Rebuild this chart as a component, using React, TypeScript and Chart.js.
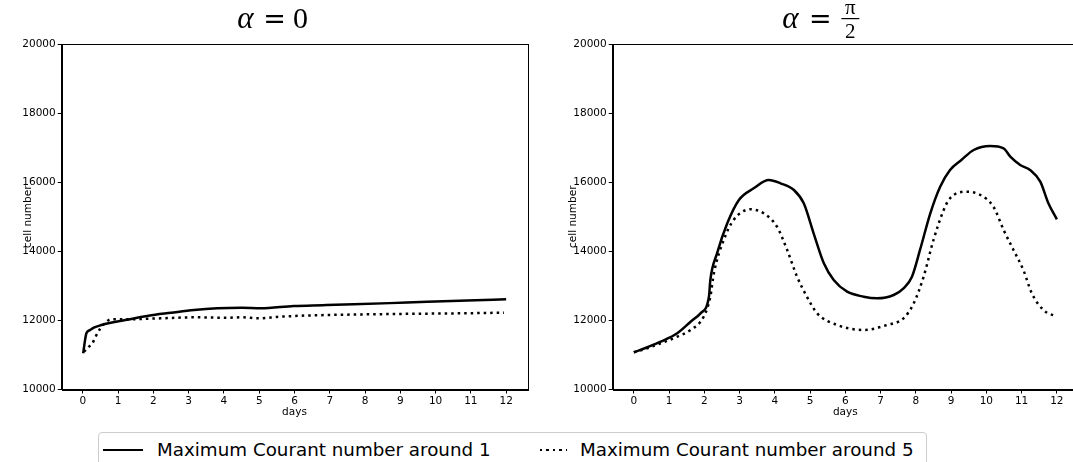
import React, { useEffect, useRef } from "react";
import { Chart, registerables } from "chart.js";

Chart.register(...registerables);

const xTicks = [0, 1, 2, 3, 4, 5, 6, 7, 8, 9, 10, 11, 12];
const yTicks = [10000, 12000, 14000, 16000, 18000, 20000];

const seriesLabels = ["Maximum Courant number around 1", "Maximum Courant number around 5"];

// alpha = 0
const leftDaysC1 = [0.01, 0.05, 0.1, 0.2, 0.31, 0.5, 0.79, 1.2, 1.86, 2.5, 3.15, 3.81, 4.5, 5.04, 5.98, 6.8, 7.68, 8.7, 9.76, 10.9, 12];
const leftCellsC1 = [11048, 11350, 11627, 11720, 11789, 11860, 11934, 12010, 12136, 12220, 12301, 12350, 12365, 12350, 12417, 12440, 12466, 12500, 12541, 12575, 12610];
const leftDaysC5 = [0.03, 0.17, 0.27, 0.36, 0.48, 0.64, 0.79, 1.26, 2.2, 3.15, 4.09, 4.5, 5.0, 5.5, 5.98, 6.93, 8.82, 10.71, 11.94];
const leftCellsC5 = [11094, 11239, 11337, 11528, 11742, 11934, 12032, 12032, 12060, 12089, 12078, 12090, 12060, 12100, 12127, 12156, 12185, 12205, 12223];

// alpha = pi/2
const rightDaysC1 = [0, 0.4, 0.76, 1.23, 1.61, 1.89, 2.13, 2.17, 2.36, 2.65, 2.98, 3.4, 3.83, 4.16, 4.54, 4.82, 5.1, 5.39, 5.67, 6.05, 6.52, 6.9, 7.37, 7.65, 7.89, 8.12, 8.41, 8.69, 8.97, 9.3, 9.64, 10.11, 10.49, 10.68, 10.96, 11.24, 11.53, 11.76, 12];
const rightCellsC1 = [11077, 11230, 11383, 11627, 11962, 12205, 12686, 13169, 13942, 14810, 15485, 15823, 16064, 15968, 15774, 15389, 14521, 13653, 13169, 12831, 12686, 12640, 12735, 12929, 13265, 14046, 15100, 15870, 16353, 16650, 16932, 17048, 16981, 16738, 16498, 16353, 16015, 15389, 14926];
const rightDaysC5 = [0, 0.4, 0.76, 1.23, 1.61, 1.98, 2.17, 2.27, 2.55, 2.83, 3.31, 3.68, 4.06, 4.35, 4.63, 4.91, 5.2, 5.77, 6.52, 7.18, 7.65, 7.94, 8.22, 8.5, 8.79, 8.97, 9.45, 9.83, 10.2, 10.49, 10.77, 11.05, 11.29, 11.62, 12];
const rightCellsC5 = [11077, 11200, 11337, 11528, 11722, 12107, 12686, 13363, 14327, 14906, 15215, 15100, 14712, 14038, 13265, 12686, 12205, 11867, 11722, 11867, 12060, 12495, 13265, 14327, 15195, 15534, 15725, 15630, 15291, 14617, 14038, 13459, 12784, 12301, 12107];

const SANS = "'DejaVu Sans', sans-serif";
const SERIF = "'Liberation Serif', 'DejaVu Serif', serif";
const SERIF_EQ = "'DejaVu Serif', serif";

const toPts = (xs: number[], ys: number[]) => xs.map((x, i) => ({ x, y: ys[i] }));

const framePlugin = {
  id: "frame",
  afterDraw(chart: any) {
    const { ctx, chartArea } = chart;
    ctx.save();
    ctx.strokeStyle = "#000";
    ctx.lineWidth = 1;
    ctx.strokeRect(Math.round(chartArea.left) + 0.5, Math.round(chartArea.top) + 0.5, Math.round(chartArea.right - chartArea.left), Math.round(chartArea.bottom - chartArea.top));
    ctx.restore();
  },
};

const mathTitlePlugin = {
  id: "mathTitle",
  afterDraw(chart: any, _args: any, opts: any) {
    const { ctx, chartArea } = chart;
    const cx = (chartArea.left + chartArea.right) / 2;
    ctx.save();
    ctx.fillStyle = "#000";
    ctx.textBaseline = "alphabetic";
    ctx.textAlign = "center";
    const base = 28;
    if (opts.kind === "zero") {
      ctx.font = `italic 31px ${SERIF}`;
      ctx.fillText("α", cx - 49, base);
      ctx.font = `27px ${SERIF_EQ}`;
      ctx.fillText("=", cx - 20, base);
      ctx.font = `30px ${SERIF}`;
      ctx.fillText("0", cx + 6, base);
    } else {
      ctx.font = `italic 31px ${SERIF}`;
      ctx.fillText("α", cx - 55, base);
      ctx.font = `27px ${SERIF_EQ}`;
      ctx.fillText("=", cx - 25, base);
      ctx.font = `21px ${SERIF}`;
      ctx.fillText("π", cx + 5, 14);
      ctx.fillText("2", cx + 5, 38);
      ctx.fillRect(cx - 4, 18, 18, 1.2);
    }
    ctx.restore();
  },
};

function makeOptions(yAxisWidth: number, padRight: number, kind: string) {
  return {
    responsive: false,
    maintainAspectRatio: false,
    animation: false,
    devicePixelRatio: 1,
    layout: { padding: { left: 0, right: padRight, top: 44, bottom: 0 } },
    plugins: {
      legend: { display: false },
      tooltip: { enabled: false },
      mathTitle: { kind },
    },
    elements: { point: { radius: 0 } },
    scales: {
      x: {
        type: "linear",
        min: -0.6,
        max: 12.6,
        afterBuildTicks: (s: any) => {
          s.ticks = xTicks.map((v) => ({ value: v }));
        },
        afterFit: (s: any) => {
          s.height = 35.5;
        },
        grid: { drawOnChartArea: false, color: "#000", tickLength: 4 },
        border: { color: "#000", width: 1 },
        ticks: { color: "#000", font: { family: SANS, size: 10.5 }, padding: 1, maxRotation: 0, autoSkip: false },
        title: { display: true, text: "days", color: "#000", font: { family: SANS, size: 10.5 }, padding: { top: 0, bottom: 6 } },
      },
      y: {
        type: "linear",
        min: 10000,
        max: 20000,
        afterBuildTicks: (s: any) => {
          s.ticks = yTicks.map((v) => ({ value: v }));
        },
        afterFit: (s: any) => {
          s.width = yAxisWidth;
        },
        grid: { drawOnChartArea: false, color: "#000", tickLength: 4 },
        border: { color: "#000", width: 1 },
        ticks: { color: "#000", font: { family: SANS, size: 10.5 }, padding: 2, callback: (v: any) => String(v) },
        title: { display: true, text: "cell number", color: "#000", font: { family: SANS, size: 10.5 }, padding: { top: 22, bottom: 0 } },
      },
    },
  };
}

function makeData(d1: number[], c1: number[], d5: number[], c5: number[]) {
  return {
    datasets: [
      {
        label: seriesLabels[0],
        data: toPts(d1, c1),
        borderColor: "#000",
        borderWidth: 2.5,
        cubicInterpolationMode: "monotone",
        fill: false,
      },
      {
        label: seriesLabels[1],
        data: toPts(d5, c5),
        borderColor: "#000",
        borderWidth: 2.5,
        borderDash: [2.5, 4],
        borderCapStyle: "butt",
        cubicInterpolationMode: "monotone",
        fill: false,
      },
    ],
  };
}

function ChartCanvas(props: { left: number; width: number; height: number; cfg: any }) {
  const ref = useRef<HTMLCanvasElement | null>(null);
  useEffect(() => {
    if (!ref.current) return;
    const chart = new Chart(ref.current, props.cfg);
    return () => chart.destroy();
  }, []);
  return (
    <canvas
      ref={ref}
      width={props.width}
      height={props.height}
      style={{ position: "absolute", left: props.left, top: 0, width: props.width, height: props.height, display: "block" }}
    />
  );
}

export default function App() {
  const leftCfg = {
    type: "line",
    data: makeData(leftDaysC1, leftCellsC1, leftDaysC5, leftCellsC5),
    options: makeOptions(61.7, 545 - 527.3, "zero"),
    plugins: [framePlugin, mathTitlePlugin],
  };
  const rightCfg = {
    type: "line",
    data: makeData(rightDaysC1, rightCellsC1, rightDaysC5, rightCellsC5),
    options: makeOptions(67.7, 12, "halfpi"),
    plugins: [framePlugin, mathTitlePlugin],
  };
  const legendText: React.CSSProperties = {
    position: "absolute",
    top: 439,
    fontFamily: SANS,
    fontSize: 18.3,
    lineHeight: "22px",
    color: "#000",
    whiteSpace: "nowrap",
  };
  return (
    <div style={{ position: "absolute", left: 0, top: 0, width: 1073, height: 462, overflow: "hidden", background: "#fff" }}>
      <ChartCanvas left={0} width={545} height={425} cfg={leftCfg} />
      <ChartCanvas left={545} width={545} height={425} cfg={rightCfg} />
      <div
        style={{
          position: "absolute",
          left: 98,
          top: 432,
          width: 829,
          height: 40,
          border: "1px solid #cccccc",
          borderRadius: 4,
          boxSizing: "border-box",
        }}
      />
      <div style={{ position: "absolute", left: 103, top: 448.5, width: 40, height: 2.5, background: "#000" }} />
      <span style={{ ...legendText, left: 157 }}>{seriesLabels[0]}</span>
      <div
        style={{
          position: "absolute",
          left: 540,
          top: 448.5,
          width: 27,
          height: 2.5,
          background: "repeating-linear-gradient(to right, #000 0px, #000 2.5px, transparent 2.5px, transparent 6.5px)",
        }}
      />
      <span style={{ ...legendText, left: 580 }}>{seriesLabels[1]}</span>
    </div>
  );
}
